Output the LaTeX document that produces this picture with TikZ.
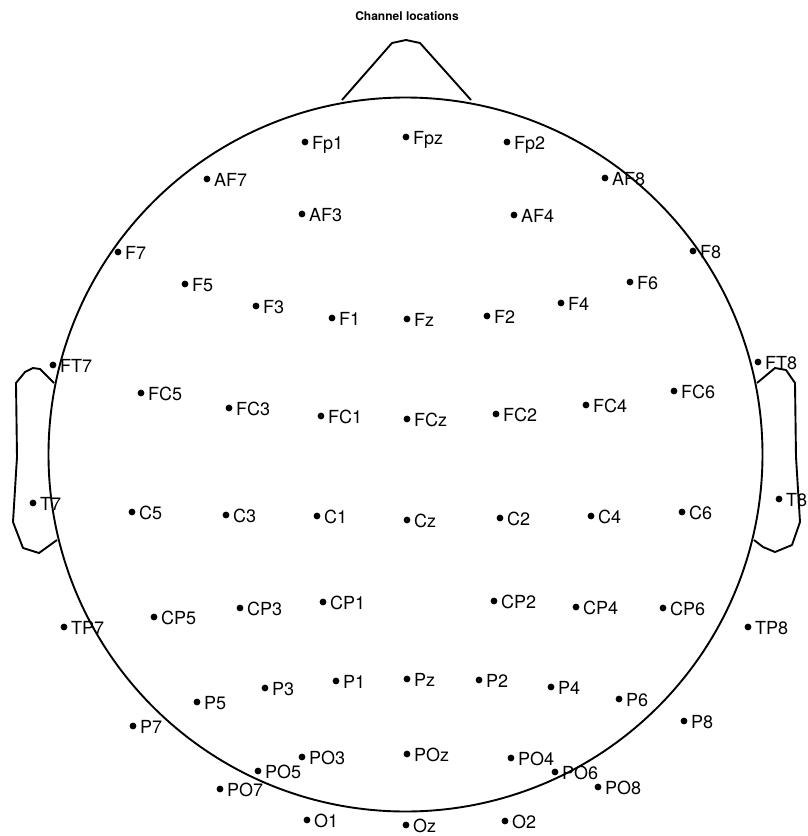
\documentclass[tikz,border=0pt]{standalone}
\usepackage{fontspec}
\setmainfont{TeX Gyre Heros}
\usepackage{tikz}

\begin{document}
\begin{tikzpicture}[x=1pt, y=-1pt,
        outline/.style={line width=1.9pt, line join=round},
        chan/.style={anchor=base west, inner sep=0pt, font=\fontsize{18}{20}\selectfont}]
        \useasboundingbox (0,0) rectangle (808,836);

        % Title
        \node[font=\bfseries\fontsize{12}{14}\selectfont, anchor=base] (title) at (407,20) {Channel locations};

        % Head outline
        \coordinate (centre) at (405.5,454.5);
        \draw[outline] (centre) circle (357pt);

        % Nose
        \draw[outline] (342,100) -- (392,43) -- (406,40) -- (420,43) -- (471,100);

        % Ears
        \draw[outline] (54,383) -- (40,369) -- (33,368) -- (25,372) -- (16,383)
            -- (17,457) -- (13,522) -- (23,548) -- (39,553) -- (57,540);
        \draw[outline] (757,383) -- (775,368) -- (786,370) -- (795,383)
            -- (796,457) -- (800,522) -- (792,545) -- (775,552) -- (763,547) -- (754,540);

        % Electrodes (dot plus name)
        \foreach \ch/\px/\py in {
            Fp1/305/142, Fpz/406/137, Fp2/507/142,
            AF7/207/179, AF3/302/214, AF4/514/215, AF8/605/178,
            F7/118/252, F5/185/284, F3/256/306, F1/332/318, Fz/407/319,
            F2/487/316, F4/561/303, F6/630/282, F8/693/251,
            FT7/53/365, FC5/141/393, FC3/229/408, FC1/321/416, FCz/407/419,
            FC2/496/414, FC4/586/405, FC6/674/391, FT8/758/362,
            T7/33/503, C5/132/512, C3/226/515, C1/317/516, Cz/407/520,
            C2/500/518, C4/591/516, C6/682/512, T8/779/499,
            TP7/64/627, CP5/154/617, CP3/240/608, CP1/323/602,
            CP2/494/601, CP4/576/607, CP6/663/608, TP8/748/627,
            P7/133/726, P5/197/702, P3/265/688, P1/336/681, Pz/407/679,
            P2/479/680, P4/551/687, P6/619/699, P8/684/721,
            PO7/220/789, PO5/258/771, PO3/302/757, POz/407/754,
            PO4/511/758, PO6/555/772, PO8/598/787,
            O1/307/820, Oz/406/825, O2/505/821}{
            \fill (\px,\py) circle (3.4pt);
            \node[chan] (\ch) at (\px+7,\py+7) {\ch};
        }
    \end{tikzpicture}
\end{document}
